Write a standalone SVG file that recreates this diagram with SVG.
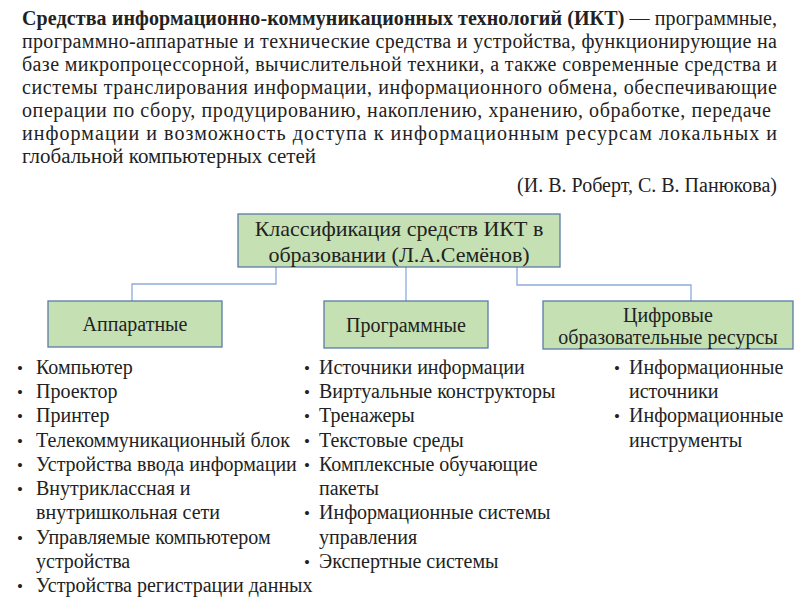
<svg xmlns="http://www.w3.org/2000/svg" width="800" height="600" viewBox="0 0 800 600">
<style>
text{font-family:"Liberation Serif","Times New Roman",serif;fill:#222}
.p{font-size:20px}
.b{font-weight:bold}
.box{fill:#c5e0b3;stroke:#5b7ba6;stroke-width:1.3}
.bt{font-size:22px;text-anchor:middle}
.nt{font-size:20px;text-anchor:middle}
.li{font-size:20px}
.bu{font-size:17px}
.conn{fill:none;stroke:#8eaadb;stroke-width:1.3}
</style>
<rect width="800" height="600" fill="#fff"/>
<g id="definition">
<text class="p" x="22" y="25" textLength="755" lengthAdjust="spacing"><tspan class="b">Средства информационно-коммуникационных технологий (ИКТ)</tspan> — программные,</text>
<text class="p" x="22" y="48" textLength="755" lengthAdjust="spacing">программно-аппаратные и технические средства и устройства, функционирующие на</text>
<text class="p" x="22" y="71" textLength="755" lengthAdjust="spacing">базе микропроцессорной, вычислительной техники, а также современные средства и</text>
<text class="p" x="22" y="94" textLength="755" lengthAdjust="spacing">системы транслирования информации, информационного обмена, обеспечивающие</text>
<text class="p" x="22" y="117" textLength="749" lengthAdjust="spacing">операции по сбору, продуцированию, накоплению, хранению, обработке, передаче</text>
<text class="p" x="22" y="140" textLength="755" lengthAdjust="spacing">информации и возможность доступа к информационным ресурсам локальных и</text>
<text class="p" x="22" y="163" textLength="294" lengthAdjust="spacingAndGlyphs">глобальной компьютерных сетей</text>
<text class="p" x="777" y="192" text-anchor="end">(И. В. Роберт, С. В. Панюкова)</text>
</g>
<g id="connectors">
<polyline class="conn" points="276,267 276,284 132,284 132,301"/>
<polyline class="conn" points="406,267 406,301"/>
<polyline class="conn" points="517,267 517,285 691,285 691,301"/>
</g>
<g id="root">
<rect class="box" x="238" y="214" width="322" height="53"/>
<text class="bt" x="399" y="236">Классификация средств ИКТ в</text>
<text class="bt" x="399" y="262">образовании (Л.А.Семёнов)</text>
</g>
<g id="hardware">
<rect class="box" x="48" y="301" width="174" height="46"/>
<text class="nt" x="135" y="331">Аппаратные</text>
</g>
<g id="software">
<rect class="box" x="324" y="301" width="164" height="47"/>
<text class="nt" x="406" y="332">Программные</text>
</g>
<g id="digital">
<rect class="box" x="543" y="301" width="250" height="48"/>
<text class="nt" x="668" y="322">Цифровые</text>
<text class="nt" x="668" y="344">образовательные ресурсы</text>
</g>
<g id="list-hardware">
<text class="bu" x="17" y="374">•</text><text class="li" x="36" y="374">Компьютер</text>
<text class="bu" x="17" y="398">•</text><text class="li" x="36" y="398">Проектор</text>
<text class="bu" x="17" y="422">•</text><text class="li" x="36" y="422">Принтер</text>
<text class="bu" x="17" y="446.5">•</text><text class="li" x="36" y="446.5">Телекоммуникационный блок</text>
<text class="bu" x="17" y="471">•</text><text class="li" x="36" y="471">Устройства ввода информации</text>
<text class="bu" x="17" y="495">•</text><text class="li" x="36" y="495">Внутриклассная и</text>
<text class="li" x="36" y="519">внутришкольная сети</text>
<text class="bu" x="17" y="543.5">•</text><text class="li" x="36" y="543.5">Управляемые компьютером</text>
<text class="li" x="36" y="567.5">устройства</text>
<text class="bu" x="17" y="592">•</text><text class="li" x="36" y="592">Устройства регистрации данных</text>
</g>
<g id="list-software">
<text class="bu" x="304" y="374">•</text><text class="li" x="319" y="374">Источники информации</text>
<text class="bu" x="304" y="398">•</text><text class="li" x="319" y="398">Виртуальные конструкторы</text>
<text class="bu" x="304" y="422">•</text><text class="li" x="319" y="422">Тренажеры</text>
<text class="bu" x="304" y="446.5">•</text><text class="li" x="319" y="446.5">Текстовые среды</text>
<text class="bu" x="304" y="471">•</text><text class="li" x="319" y="471">Комплексные обучающие</text>
<text class="li" x="319" y="495">пакеты</text>
<text class="bu" x="304" y="519">•</text><text class="li" x="319" y="519">Информационные системы</text>
<text class="li" x="319" y="543.5">управления</text>
<text class="bu" x="304" y="567.5">•</text><text class="li" x="319" y="567.5">Экспертные системы</text>
</g>
<g id="list-digital">
<text class="bu" x="614" y="374">•</text><text class="li" x="629" y="374">Информационные</text>
<text class="li" x="629" y="398">источники</text>
<text class="bu" x="614" y="422">•</text><text class="li" x="629" y="422">Информационные</text>
<text class="li" x="629" y="446.5">инструменты</text>
</g>
</svg>
